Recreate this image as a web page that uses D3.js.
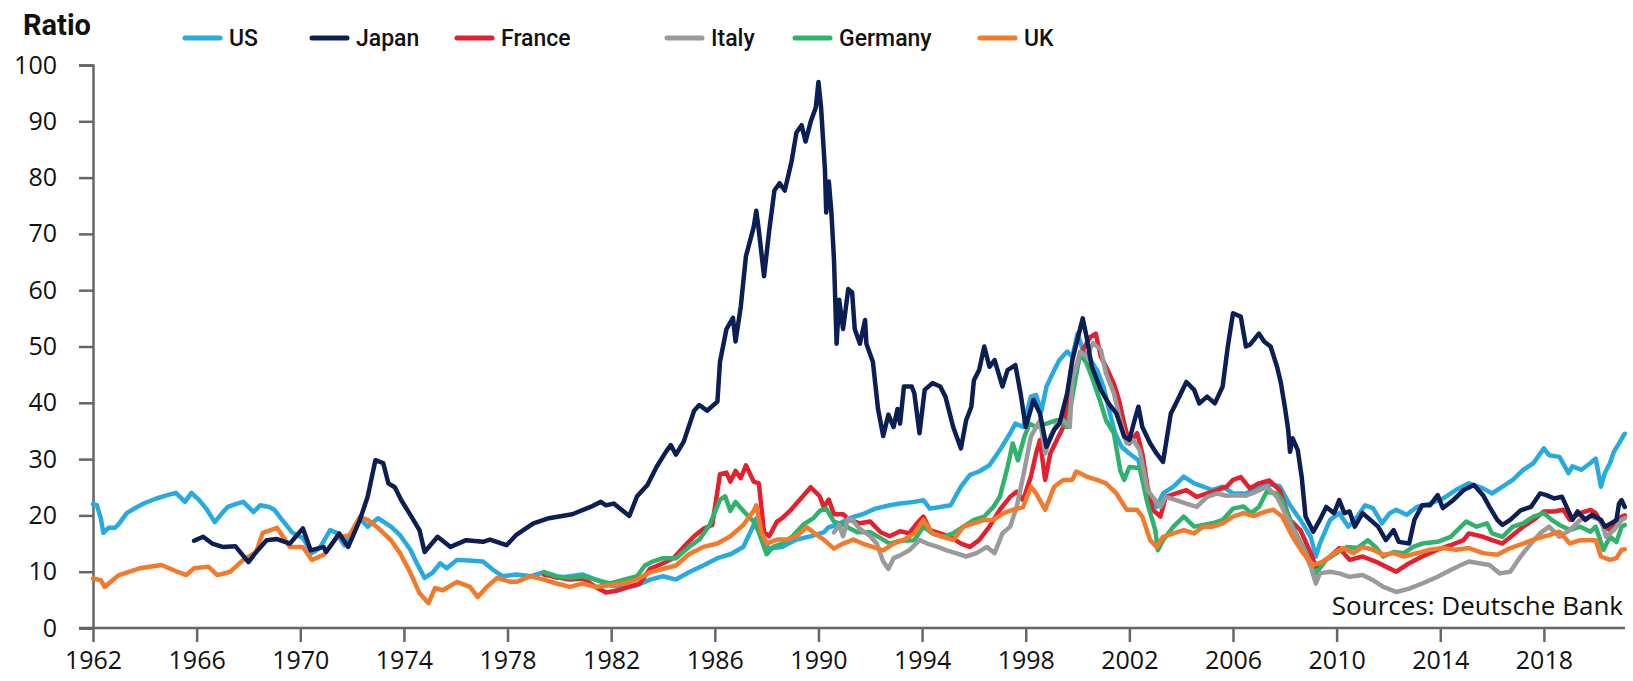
<!DOCTYPE html>
<html>
<head>
<meta charset="utf-8">
<script src="https://cdn.jsdelivr.net/npm/d3@7"></script>
<style>
  body { margin: 0; background: #fff; }
  svg { display: block; }
  .axis path, .axis line { stroke: #666; stroke-width: 2.5px; }
  .axis text { font-family: "Open Sans", sans-serif; font-size: 25px; fill: #111; }
  .line { fill: none; stroke-width: 4.5px; stroke-linejoin: round; stroke-linecap: round; }
</style>
</head>
<body>
<div id="chart"></div>
<script>
// data: [year, ratio]
const countries = ['US', 'Japan', 'France', 'Italy', 'Germany', 'UK'];

const usData = [[1962.0,22],[1962.15,21.8],[1962.3,19.5],[1962.4,16.9],[1962.6,17.8],[1962.85,17.8],[1963.0,18.5],[1963.3,20.4],[1963.7,21.5],[1964.0,22.2],[1964.45,23],[1964.8,23.5],[1965.2,24],[1965.55,22.4],[1965.8,24],[1966.1,22.7],[1966.4,21],[1966.7,18.8],[1967.0,20.5],[1967.2,21.5],[1967.5,22],[1967.8,22.4],[1968.2,20.6],[1968.45,21.8],[1968.8,21.5],[1969.0,21],[1969.3,19.2],[1969.7,16.9],[1970.1,16],[1970.45,13.3],[1970.75,14.2],[1971.15,17.4],[1971.4,16.9],[1971.7,14.7],[1972.0,17],[1972.3,19.5],[1972.6,18],[1973.0,19.5],[1973.5,18],[1973.85,16.5],[1974.25,13.9],[1974.5,11.5],[1974.8,8.9],[1975.1,9.8],[1975.4,11.5],[1975.65,10.6],[1976.05,12.1],[1976.5,12],[1977.05,11.8],[1977.45,10.3],[1977.8,9.2],[1978.35,9.5],[1978.9,9.2],[1979.4,9.9],[1979.9,8.9],[1980.4,9.2],[1980.9,9.5],[1981.4,8.6],[1981.95,7.6],[1982.5,7.2],[1983.0,7.6],[1983.5,8.6],[1984.0,9.2],[1984.5,8.6],[1985.0,9.9],[1985.55,11.1],[1986.1,12.4],[1986.6,13.1],[1987.1,14.4],[1987.5,18.3],[1987.6,19.5],[1987.8,15.7],[1988.1,14.1],[1988.6,14.4],[1989.15,15.7],[1989.7,16.3],[1990.2,17],[1990.4,17.9],[1990.7,18.3],[1991.2,19.5],[1991.7,20.2],[1992.2,21.2],[1992.75,21.8],[1993.15,22.1],[1993.7,22.4],[1994.05,22.7],[1994.3,21.2],[1994.7,21.5],[1995.1,21.8],[1995.5,25.1],[1995.85,27.2],[1996.2,27.8],[1996.6,28.9],[1997.0,31.6],[1997.4,34.6],[1997.6,36.3],[1997.9,35.7],[1998.2,41.1],[1998.4,41.4],[1998.6,38.4],[1998.8,42.9],[1999.1,45.8],[1999.3,47.6],[1999.6,49.1],[1999.8,48.2],[2000.0,52.3],[2000.2,49.4],[2000.5,47.6],[2000.75,45.8],[2001.0,42.9],[2001.25,38.1],[2001.45,34.6],[2001.7,32.2],[2002.0,31],[2002.35,29.8],[2002.5,26.9],[2002.8,23.3],[2003.05,21.5],[2003.3,23.9],[2003.7,25.1],[2004.1,26.9],[2004.5,25.7],[2004.85,25.1],[2005.2,24.5],[2005.6,25.1],[2006.0,23.9],[2006.5,23.9],[2007.0,25.1],[2007.4,25.5],[2007.8,25.2],[2008.2,21.8],[2008.6,19.2],[2009.0,16.2],[2009.2,12.7],[2009.35,15],[2009.75,19.2],[2010.1,20.4],[2010.45,18],[2010.8,19.8],[2011.1,21.8],[2011.4,21.3],[2011.75,18.6],[2012.05,20.4],[2012.3,21],[2012.7,20.1],[2013.1,21.5],[2013.6,22.1],[2014.1,23],[2014.6,24.5],[2015.1,25.7],[2015.65,24.8],[2016.0,23.9],[2016.4,25.1],[2016.8,26.3],[2017.2,28.1],[2017.6,29.3],[2018.0,31.9],[2018.2,30.7],[2018.6,30.4],[2018.95,27.5],[2019.1,28.7],[2019.45,28.1],[2019.8,29.3],[2020.0,30.1],[2020.2,25.1],[2020.35,27.5],[2020.55,29.3],[2020.7,31.3],[2020.9,32.8],[2021.05,34],[2021.12,34.5]];

const japanData = [[1965.9,15.5],[1966.25,16.2],[1966.6,15],[1967.0,14.4],[1967.5,14.5],[1968.0,11.7],[1968.3,13.5],[1968.7,15.6],[1969.1,15.8],[1969.6,15],[1970.1,17.7],[1970.4,13.8],[1970.9,14.4],[1971.0,13.5],[1971.5,16.8],[1971.85,14.4],[1972.3,19.2],[1972.6,23.3],[1972.9,29.8],[1973.2,29.3],[1973.4,25.7],[1973.65,25],[1973.9,22.7],[1974.3,19.7],[1974.6,17.4],[1974.8,13.5],[1975.3,16.2],[1975.8,14.4],[1976.4,15.6],[1977.05,15.3],[1977.32,15.7],[1977.96,14.7],[1978.35,16.6],[1979.0,18.6],[1979.6,19.5],[1980.5,20.2],[1981.2,21.5],[1981.6,22.4],[1981.8,21.8],[1982.1,22.1],[1982.7,19.9],[1983.0,23.4],[1983.4,25.4],[1983.75,28.6],[1984.1,31.2],[1984.3,32.5],[1984.5,30.8],[1984.8,33.1],[1985.2,38.6],[1985.4,39.6],[1985.7,38.6],[1986.1,40.2],[1986.2,47.3],[1986.45,53.1],[1986.7,55.1],[1986.8,50.9],[1987.0,57],[1987.2,66],[1987.5,71.2],[1987.6,74.1],[1987.7,70.6],[1987.9,62.5],[1988.1,70.6],[1988.3,77.7],[1988.5,79],[1988.7,77.7],[1988.96,82.8],[1989.15,88],[1989.35,89.3],[1989.5,86.4],[1989.7,89.9],[1989.9,92.5],[1990.0,97],[1990.1,92.5],[1990.25,81.5],[1990.3,73.8],[1990.4,79.3],[1990.5,73.8],[1990.6,65.4],[1990.7,50.5],[1990.8,58.3],[1990.95,53.1],[1991.15,60.2],[1991.3,59.6],[1991.4,53.1],[1991.6,50.5],[1991.8,54.7],[1991.85,50.5],[1992.1,47.3],[1992.3,38.9],[1992.5,34.1],[1992.7,37.9],[1992.9,35.7],[1993.05,38.9],[1993.15,36.3],[1993.3,42.9],[1993.6,42.9],[1993.7,41.7],[1993.9,34.6],[1994.1,42.3],[1994.4,43.5],[1994.7,42.9],[1994.9,41.1],[1995.2,35.7],[1995.5,31.9],[1995.7,36.9],[1995.9,39.3],[1996.0,44],[1996.2,45.8],[1996.4,50],[1996.6,46.4],[1996.8,47.6],[1997.1,42.9],[1997.3,45.8],[1997.6,46.7],[1997.8,41.7],[1998.0,35.7],[1998.3,40.5],[1998.55,38.1],[1998.8,32.2],[1999.1,35.2],[1999.3,36.3],[1999.6,41.7],[1999.8,47.6],[2000.2,55],[2000.35,51.7],[2000.55,46.4],[2000.9,42.3],[2001.2,39.9],[2001.5,38.1],[2001.8,34],[2002.0,33.4],[2002.2,36.9],[2002.35,39.3],[2002.5,35.7],[2002.8,32.8],[2003.05,31],[2003.3,29.5],[2003.6,38.1],[2003.8,39.9],[2004.2,43.7],[2004.5,42.3],[2004.7,39.9],[2005.0,41.1],[2005.3,39.9],[2005.6,42.9],[2005.8,50],[2006.0,55.9],[2006.3,55.3],[2006.5,50],[2006.65,50.3],[2007.0,52.3],[2007.2,50.9],[2007.45,50],[2007.7,46.4],[2007.85,43.5],[2008.0,39.3],[2008.13,35.2],[2008.2,31.3],[2008.3,33.7],[2008.5,31.6],[2008.65,26.9],[2008.8,19.8],[2009.1,17.1],[2009.35,19.2],[2009.6,21.5],[2009.9,20.4],[2010.1,22.7],[2010.3,20.4],[2010.5,20.7],[2010.7,18],[2011.0,20.4],[2011.3,19.2],[2011.6,18],[2011.9,15.6],[2012.2,17.4],[2012.4,15.3],[2012.8,15],[2013.0,19.2],[2013.3,21.8],[2013.6,21.8],[2013.9,23.6],[2014.1,21.3],[2014.5,22.7],[2014.9,24.5],[2015.3,25.4],[2015.65,23.6],[2015.9,21.5],[2016.2,19.2],[2016.4,18.3],[2016.7,19.2],[2017.1,20.9],[2017.5,21.5],[2017.85,23.9],[2018.1,23.6],[2018.4,23],[2018.7,23.3],[2018.9,21.3],[2019.1,19.2],[2019.3,20.7],[2019.6,19.2],[2019.85,20.1],[2020.2,19.2],[2020.35,18],[2020.6,18.6],[2020.8,19.2],[2020.9,22.1],[2021.0,22.7],[2021.12,21.5]];

const franceData = [[1979.4,9.5],[1979.9,9],[1980.4,8.6],[1980.9,8.8],[1981.4,7.3],[1981.8,6.3],[1982.2,6.6],[1982.7,7.3],[1983.1,7.9],[1983.5,10.5],[1984.0,11.5],[1984.4,12.4],[1984.8,14.4],[1985.2,16.3],[1985.55,17.6],[1985.9,18.3],[1986.2,27.3],[1986.45,27.6],[1986.6,26],[1986.8,27.9],[1987.0,26.6],[1987.2,28.9],[1987.5,26],[1987.7,25.7],[1987.9,17],[1988.1,16.3],[1988.4,18.9],[1988.6,19.5],[1988.9,20.8],[1989.15,22.1],[1989.4,23.4],[1989.7,25],[1989.9,24.1],[1990.05,23.4],[1990.2,21.5],[1990.4,22.8],[1990.6,20.2],[1990.95,20.2],[1991.2,19.2],[1991.6,18.6],[1992.0,18.9],[1992.4,17],[1992.75,16.3],[1993.15,17.2],[1993.5,16.8],[1993.8,18.6],[1994.05,19.8],[1994.3,17.4],[1994.7,16.8],[1995.1,16.2],[1995.5,15],[1995.85,14.4],[1996.2,15.6],[1996.6,18],[1997.0,21],[1997.4,23.3],[1997.65,24.2],[1997.9,22.7],[1998.2,26.9],[1998.4,31],[1998.55,33.4],[1998.75,26.3],[1998.95,31],[1999.2,33.4],[1999.45,35.7],[1999.7,42.3],[1999.95,46.4],[2000.2,49.4],[2000.5,51.7],[2000.7,52.3],[2000.9,48.2],[2001.1,46.4],[2001.4,43.4],[2001.6,40.5],[2001.8,36.3],[2002.0,32.8],[2002.3,34.6],[2002.5,31],[2002.7,25.1],[2002.9,21],[2003.2,19.8],[2003.4,23.3],[2003.8,23.9],[2004.2,24.5],[2004.6,23.3],[2005.0,23.9],[2005.4,24.5],[2005.75,25.1],[2006.0,26.3],[2006.3,26.8],[2006.65,24.8],[2007.0,25.7],[2007.4,26.2],[2007.8,24.5],[2008.2,19.2],[2008.6,17.4],[2009.0,13.3],[2009.2,10.9],[2009.75,12.7],[2010.1,14.2],[2010.5,12.1],[2011.0,12.7],[2011.5,11.8],[2011.9,10.9],[2012.3,10],[2012.8,11.5],[2013.3,12.7],[2013.9,13.9],[2014.4,14.7],[2014.9,15.6],[2015.1,16.8],[2015.65,16.2],[2016.0,15.6],[2016.4,15],[2016.8,16.5],[2017.2,18],[2017.6,19.2],[2018.0,20.7],[2018.4,20.7],[2018.75,21],[2019.0,19.2],[2019.4,20.4],[2019.8,21],[2020.0,20.4],[2020.3,18],[2020.55,17.4],[2020.8,19.2],[2021.0,19.8],[2021.12,20]];

const italyData = [[1990.6,17],[1990.8,18.3],[1990.95,16.3],[1991.15,19.5],[1991.3,19.2],[1991.6,17.6],[1992.0,16.3],[1992.25,15],[1992.5,11.8],[1992.7,10.5],[1992.9,12.4],[1993.15,12.9],[1993.5,13.8],[1993.9,15.6],[1994.2,15],[1994.6,14.4],[1994.95,13.8],[1995.3,13.3],[1995.7,12.7],[1996.1,13.3],[1996.5,14.4],[1996.8,13.3],[1997.1,16.8],[1997.4,18],[1997.65,21.5],[1997.9,26.9],[1998.2,34],[1998.4,35.7],[1998.55,36.9],[1998.75,31],[1998.95,34],[1999.2,36.3],[1999.45,36.9],[1999.7,35.7],[1999.8,44],[2000.1,49.1],[2000.35,48.2],[2000.6,50.6],[2000.9,49.4],[2001.1,45.2],[2001.4,41.7],[2001.65,36.9],[2001.9,32.8],[2002.15,33.4],[2002.4,31.6],[2002.7,24.5],[2002.9,23.3],[2003.2,21.5],[2003.4,23.3],[2003.8,22.7],[2004.2,22.1],[2004.6,21.5],[2005.0,23.3],[2005.4,23.9],[2005.75,23.5],[2006.1,23.6],[2006.5,23.5],[2006.9,24.2],[2007.3,25.1],[2007.7,23.3],[2008.2,18.6],[2008.6,15],[2009.0,10.9],[2009.2,7.9],[2009.35,9.7],[2009.75,10],[2010.1,9.7],[2010.5,9.1],[2011.0,9.4],[2011.4,8.5],[2011.8,7.3],[2012.3,6.4],[2012.8,7],[2013.3,7.9],[2013.9,9.1],[2014.4,10.3],[2014.8,11.2],[2015.1,11.8],[2015.5,11.5],[2015.9,11.2],[2016.3,9.7],[2016.7,10],[2017.1,12.7],[2017.5,15],[2017.85,16.8],[2018.2,18],[2018.6,16.2],[2019.0,17.4],[2019.4,19.2],[2019.8,19.8],[2020.2,19.2],[2020.4,16.2],[2020.7,17.4],[2021.0,19.2],[2021.12,19.5]];

const germanyData = [[1979.4,9.9],[1979.9,9.2],[1980.4,8.9],[1980.9,9.2],[1981.4,8.6],[1981.95,7.9],[1982.5,8.6],[1983.0,9.2],[1983.3,11.1],[1983.6,11.8],[1984.0,12.4],[1984.5,12.4],[1985.0,14.4],[1985.4,15.7],[1985.8,18.3],[1986.2,22.8],[1986.4,23.4],[1986.6,20.8],[1986.8,22.4],[1987.1,20.8],[1987.5,18.9],[1987.7,17],[1988.0,13.1],[1988.25,14.4],[1988.6,15],[1989.0,16.3],[1989.4,18.3],[1989.8,19.5],[1990.05,20.8],[1990.3,21.2],[1990.6,18.9],[1990.95,18.3],[1991.5,17],[1992.0,17],[1992.5,15.7],[1992.75,15],[1993.15,15.5],[1993.7,15.6],[1994.05,18],[1994.4,16.8],[1994.8,16.2],[1995.2,16.8],[1995.6,18],[1996.0,19.2],[1996.4,19.8],[1996.75,21.5],[1997.0,23.3],[1997.3,28.6],[1997.5,32.8],[1997.7,29.8],[1997.95,34],[1998.15,36.3],[1998.4,35.7],[1998.8,36.3],[1999.2,36.9],[1999.6,35.7],[1999.8,41.1],[2000.1,48.8],[2000.35,47],[2000.6,44],[2000.9,39.9],[2001.1,36.9],[2001.4,34.6],[2001.65,28],[2001.8,26.3],[2002.0,28.6],[2002.4,28.4],[2002.7,22.1],[2003.0,17.4],[2003.1,13.8],[2003.3,15.6],[2003.7,18],[2004.1,19.8],[2004.5,18],[2004.85,18.3],[2005.2,18.6],[2005.6,19.2],[2006.0,21.2],[2006.4,21.6],[2006.7,20.4],[2007.0,21.5],[2007.3,24.2],[2007.7,23.9],[2007.9,22.7],[2008.3,18],[2008.7,14.4],[2009.1,10.3],[2009.2,9.7],[2009.6,12.1],[2010.0,13.3],[2010.4,14.4],[2010.8,14.2],[2011.2,15.6],[2011.5,14.4],[2011.8,12.7],[2012.2,13.5],[2012.6,13.3],[2012.95,14.4],[2013.3,15],[2013.9,15.3],[2014.4,16.2],[2014.8,18],[2015.0,18.9],[2015.4,18],[2015.8,18.6],[2016.0,16.8],[2016.4,16.2],[2016.8,18],[2017.2,18.6],[2017.6,19.8],[2018.0,20.4],[2018.3,19.2],[2018.6,18.3],[2019.0,17.4],[2019.4,18],[2019.8,17.1],[2020.0,18],[2020.3,13.9],[2020.55,16.2],[2020.8,15.3],[2021.0,18],[2021.12,18.3]];

const ukData = [[1962.0,8.8],[1962.3,8.5],[1962.45,7.3],[1963.0,9.4],[1963.8,10.6],[1964.65,11.2],[1965.25,10],[1965.6,9.4],[1965.9,10.6],[1966.45,10.9],[1966.8,9.4],[1967.3,10],[1967.8,12.1],[1968.3,13.5],[1968.55,16.9],[1969.1,17.8],[1969.6,14.4],[1970.1,14.4],[1970.45,12.1],[1970.9,13],[1971.4,16],[1971.9,16.5],[1972.3,19.7],[1972.6,19.2],[1973.0,17.8],[1973.5,15.6],[1973.85,13.3],[1974.25,9.8],[1974.6,6.2],[1974.95,4.4],[1975.2,7.1],[1975.5,6.7],[1976.05,8.2],[1976.55,7.3],[1976.85,5.5],[1977.2,7.3],[1977.6,8.9],[1978.1,8.2],[1978.35,8.2],[1978.9,9.2],[1979.4,8.6],[1979.9,7.9],[1980.4,7.3],[1980.9,7.9],[1981.4,7.3],[1981.95,7.6],[1982.5,7.9],[1983.0,8.6],[1983.5,9.9],[1984.0,10.5],[1984.5,11.1],[1985.0,13.1],[1985.55,14.4],[1986.1,15],[1986.6,16.3],[1987.1,18.3],[1987.5,20.8],[1987.6,21.8],[1987.8,17],[1988.0,15],[1988.4,15.7],[1988.8,15.7],[1989.15,16.3],[1989.55,17.9],[1989.8,17],[1990.2,15.7],[1990.6,14.1],[1990.95,15],[1991.35,15.7],[1991.7,15],[1992.1,14.4],[1992.5,13.8],[1992.9,15],[1993.3,15.7],[1993.7,16.8],[1994.05,19.2],[1994.4,16.8],[1994.8,16.2],[1995.2,15.6],[1995.6,18],[1996.0,18.6],[1996.4,19.2],[1996.75,19.2],[1997.15,20.4],[1997.5,21],[1997.9,21.5],[1998.2,25.1],[1998.4,23.9],[1998.75,21],[1999.1,25.1],[1999.45,26.3],[1999.8,26.3],[1999.95,27.8],[2000.35,26.9],[2000.75,26.3],[2001.1,25.7],[2001.5,23.9],[2001.9,21],[2002.3,21],[2002.5,19.8],[2002.8,15.6],[2003.05,14.4],[2003.3,16.2],[2003.7,16.8],[2004.1,17.4],[2004.5,16.8],[2004.85,18],[2005.2,18],[2005.6,18.6],[2006.0,19.8],[2006.4,20.4],[2006.8,19.9],[2007.2,20.6],[2007.55,21],[2007.9,19.8],[2008.3,16.2],[2008.7,13.3],[2009.1,11.2],[2009.5,11.8],[2009.9,13.3],[2010.25,14.2],[2010.65,13.3],[2011.0,14.4],[2011.4,13.9],[2011.8,13],[2012.2,13.3],[2012.6,12.7],[2013.1,13.3],[2013.6,13.9],[2014.1,14.2],[2014.6,13.9],[2015.1,14.2],[2015.65,13.3],[2016.2,13],[2016.7,14.2],[2017.2,15],[2017.7,15.9],[2018.2,16.5],[2018.6,17.1],[2019.0,15],[2019.4,15.6],[2019.8,15.6],[2020.0,15.6],[2020.2,12.7],[2020.55,12.1],[2020.8,12.4],[2021.0,13.9],[2021.12,14]];

const xTicks = [1962, 1966, 1970, 1974, 1978, 1982, 1986, 1990, 1994, 1998, 2002, 2006, 2010, 2014, 2018];
const yTicks = [0, 10, 20, 30, 40, 50, 60, 70, 80, 90, 100];

class LineChart {
    constructor(_config) {
        this.config = {
            parentElement: _config.parentElement,
            containerWidth: 1633,
            containerHeight: 681,
            margin: {top: 65, right: 8, bottom: 53, left: 93},
        }
        this.colors = {US: '#27aae1', Japan: '#0c1f55', France: '#e4202e', Italy: '#9a9a9a', Germany: '#2fb36c', UK: '#f27a2a'};
        this.series = {US: usData, Japan: japanData, France: franceData, Italy: italyData, Germany: germanyData, UK: ukData};
        this.initVis();
    }

    initVis() {
        let vis = this;
        vis.width = vis.config.containerWidth - vis.config.margin.left - vis.config.margin.right;
        vis.height = vis.config.containerHeight - vis.config.margin.top - vis.config.margin.bottom;

        vis.xScale = d3.scaleLinear().domain([1962, 2021.13]).range([0, vis.width]);
        vis.yScale = d3.scaleLinear().domain([0, 100]).range([vis.height, 0]);

        vis.svg = d3.select(vis.config.parentElement).append('svg')
            .attr('width', vis.config.containerWidth)
            .attr('height', vis.config.containerHeight);

        vis.chart = vis.svg.append('g')
            .attr('transform', `translate(${vis.config.margin.left},${vis.config.margin.top})`);

        // axes
        vis.yAxisG = vis.chart.append('g').attr('class', 'axis')
            .call(d3.axisLeft(vis.yScale).tickValues(yTicks).tickSize(14).tickPadding(22));
        vis.xAxisG = vis.chart.append('g').attr('class', 'axis')
            .attr('transform', `translate(0,${vis.height})`)
            .call(d3.axisBottom(vis.xScale).tickValues(xTicks).tickFormat(d3.format('d'))
                .tickSize(14).tickSizeOuter(0).tickPadding(9));
        // extend x axis line left to meet the 0 tick
        vis.xAxisG.select('.domain').attr('d', `M-14,0H${vis.width}`);

        vis.line = d3.line().x(d => vis.xScale(d[0])).y(d => vis.yScale(d[1]));

        // title
        vis.svg.append('text')
            .attr('x', 23).attr('y', 35)
            .style('font-family', 'Roboto, sans-serif').style('font-weight', 'bold')
            .style('font-size', '29px').style('fill', '#111')
            .text('Ratio');

        // source
        vis.chart.append('text')
            .attr('x', vis.width - 2).attr('y', vis.height - 13)
            .attr('text-anchor', 'end')
            .style('font-family', '"Open Sans", sans-serif').style('font-size', '26px').style('fill', '#111')
            .text('Sources: Deutsche Bank');

        vis.renderVis();
    }

    renderVis() {
        let vis = this;
        const drawOrder = ['US', 'France', 'Germany', 'Italy', 'UK', 'Japan'];
        vis.chart.selectAll('.line').data(drawOrder)
            .join('path')
            .attr('class', 'line')
            .attr('stroke', d => vis.colors[d])
            .attr('d', d => vis.line(vis.series[d]));

        // legend
        const legendX = [185, 312, 457, 667, 795, 980];
        const legend = vis.svg.selectAll('.legend').data(countries)
            .join('g')
            .attr('class', 'legend')
            .attr('transform', (d, i) => `translate(${legendX[i]},38)`);
        legend.append('line')
            .attr('x1', 0).attr('x2', 35)
            .attr('stroke', d => vis.colors[d])
            .attr('stroke-width', 5).attr('stroke-linecap', 'round');
        legend.append('text')
            .attr('x', 44).attr('y', 8)
            .style('font-family', 'Roboto, sans-serif').style('font-weight', 500)
            .style('font-size', '23px').style('fill', '#111')
            .text(d => d);
    }
}

new LineChart({parentElement: '#chart'});
</script>
</body>
</html>
